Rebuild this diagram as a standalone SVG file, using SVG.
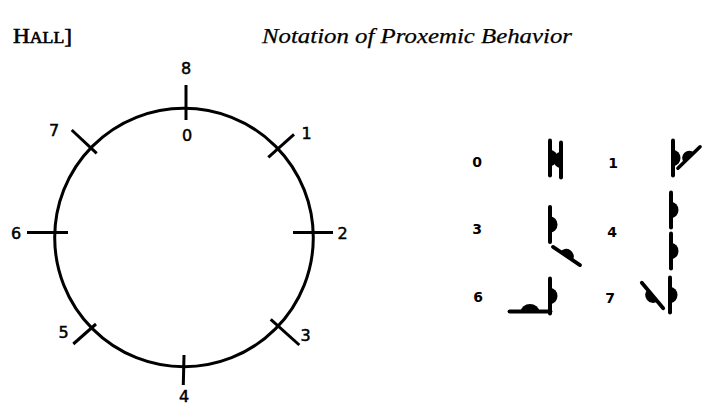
<svg xmlns="http://www.w3.org/2000/svg" xmlns:xlink="http://www.w3.org/1999/xlink" width="704" height="405" viewBox="0 0 704 405">
<style>
.ink{stroke:#000;fill:none;stroke-linecap:round}
.tick{stroke:#000;stroke-width:3;fill:none}
.num{font-family:"DejaVu Sans","Liberation Sans",sans-serif;font-size:16px;fill:#000;stroke:#000;stroke-width:0.5;text-anchor:middle}
.tnum{font-family:"DejaVu Sans","Liberation Sans",sans-serif;font-size:14px;font-weight:bold;fill:#000;text-anchor:middle}
.hd{font-family:"Liberation Serif","DejaVu Serif",serif;fill:#000;stroke:#000}
</style>
<defs>
<g id="fig">
<line x1="0" y1="-17.5" x2="0" y2="17.5" stroke="#000" stroke-width="4" stroke-linecap="round"/>
<path d="M0,-8 A7.5,8 0 0 1 0,8 Z" fill="#000"/>
</g>
</defs>
<rect width="704" height="405" fill="#fff"/>
<g id="header">
<text class="hd" x="13" y="43" font-size="21" stroke-width="0.6" textLength="59" lengthAdjust="spacingAndGlyphs">H<tspan font-size="16">ALL</tspan>]</text>
<text class="hd" x="262" y="43" font-size="22" font-style="italic" stroke-width="0.25" textLength="310" lengthAdjust="spacingAndGlyphs">Notation of Proxemic Behavior</text>
</g>
<g id="dial">
<circle class="ink" cx="184" cy="237.5" r="129.3" stroke-width="3"/>
<g id="ticks">
<line class="tick" x1="186" y1="85" x2="186" y2="120"/>
<line class="tick" x1="184" y1="355" x2="183.3" y2="385"/>
<line class="tick" x1="27" y1="232.5" x2="68" y2="232.5"/>
<line class="tick" x1="293" y1="232.5" x2="333" y2="232.5"/>
<line class="tick" x1="71.7" y1="130" x2="96.7" y2="153.3"/>
<line class="tick" x1="294" y1="134.3" x2="268.3" y2="157.3"/>
<line class="tick" x1="96" y1="324" x2="73.3" y2="344"/>
<line class="tick" x1="270.7" y1="319.3" x2="299.3" y2="345"/>
</g>
<g id="dial-labels">
<text class="num" x="186" y="73.5">8</text>
<text class="num" x="187" y="141">0</text>
<text class="num" x="306.5" y="138.5">1</text>
<text class="num" x="342.5" y="238.5">2</text>
<text class="num" x="305.5" y="340.5">3</text>
<text class="num" x="184" y="401.5">4</text>
<text class="num" x="63.5" y="337.5">5</text>
<text class="num" x="16" y="238.5">6</text>
<text class="num" x="54" y="135.5">7</text>
</g>
</g>
<g id="table">
<g id="row0">
<text class="tnum" x="477" y="167">0</text>
<use xlink:href="#fig" transform="translate(550,158)"/>
<use xlink:href="#fig" transform="translate(561,160) scale(-1,1)"/>
</g>
<g id="row1">
<text class="tnum" x="613" y="168">1</text>
<use xlink:href="#fig" transform="translate(673,158)"/>
<use xlink:href="#fig" transform="translate(689,157.5) rotate(-134) scale(0.88)"/>
</g>
<g id="row3">
<text class="tnum" x="477" y="234">3</text>
<use xlink:href="#fig" transform="translate(550,224.5)"/>
<use xlink:href="#fig" transform="translate(566.5,256) rotate(-56) scale(0.93)"/>
</g>
<g id="row4">
<text class="tnum" x="612" y="237">4</text>
<use xlink:href="#fig" transform="translate(671,210)"/>
<use xlink:href="#fig" transform="translate(671,251)"/>
</g>
<g id="row6">
<text class="tnum" x="478" y="302">6</text>
<use xlink:href="#fig" transform="translate(550,296)"/>
<use xlink:href="#fig" transform="translate(530,311.5) rotate(-90) scale(1,1.15)"/>
</g>
<g id="row7">
<text class="tnum" x="610" y="303">7</text>
<use xlink:href="#fig" transform="translate(670,295)"/>
<use xlink:href="#fig" transform="translate(652.5,295.5) rotate(140) scale(0.95)"/>
</g>
</g>
</svg>
